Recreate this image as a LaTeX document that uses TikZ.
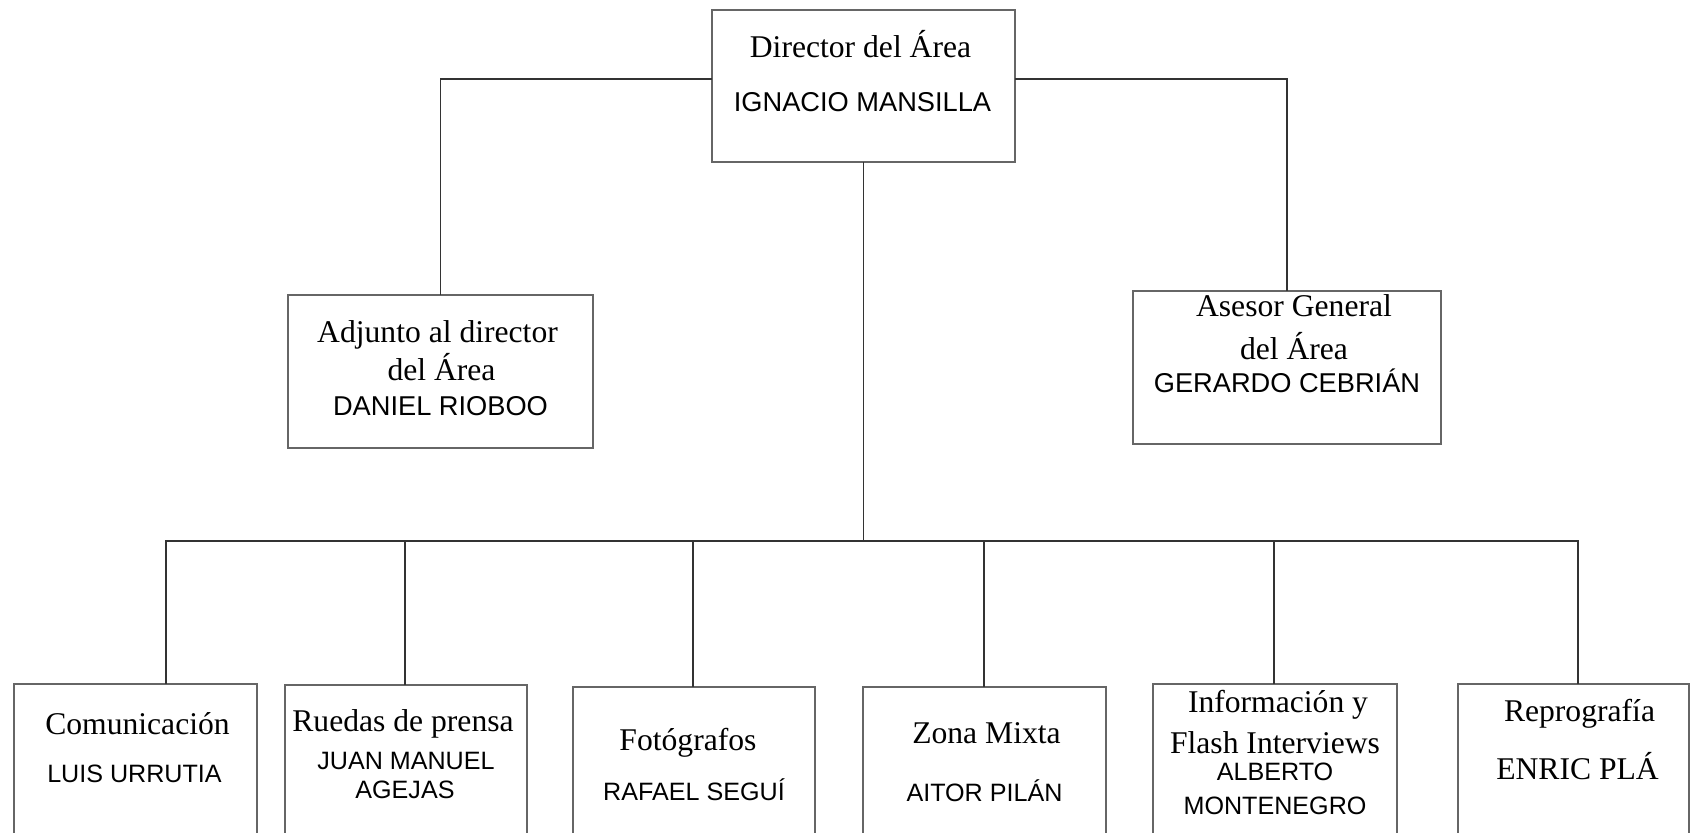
\documentclass[tikz,border=0pt]{standalone}
\usepackage{fontspec}
\setmainfont{Liberation Serif}
\setsansfont{Liberation Sans}
\usetikzlibrary{calc}
\tikzset{
  box/.style={rectangle, draw=black!60, line width=0.9pt, inner sep=0pt, minimum width=4.86cm, minimum height=3.06cm},
  unit/.style={box, anchor=north, minimum height=4cm},
  link/.style={draw=black!80, line width=1.1pt, line cap=rect},
  ttl/.style={anchor=base, inner sep=0pt, font=\fontsize{18}{20}\selectfont},
  nm/.style={anchor=base, inner sep=0pt, font=\sffamily\fontsize{15.5}{18}\selectfont},
  nmsmall/.style={nm, font=\sffamily\fontsize{14.3}{17}\selectfont},
}
\begin{document}
\begin{tikzpicture}[x=0.02cm, y=-0.02cm]
  \useasboundingbox (0,0) rectangle (1691,832);
  \clip (0,0) rectangle (1691,832);
  % top level
  \node[box, minimum width=6.06cm, minimum height=3.04cm] (dir) at (863.5,86) {};
  \node[box, minimum width=6.1cm] (adj) at (440.5,371.5) {};
  \node[box, minimum width=6.16cm] (ase) at (1287,367.5) {};
  % bottom row
  \node[unit, minimum width=4.86cm] (com) at (135.5,683) {};
  \node[unit, minimum width=4.84cm] (rue) at (406,684) {};
  \node[unit, minimum width=4.84cm] (fot) at (694,686) {};
  \node[unit, minimum width=4.86cm] (zon) at (984.5,686) {};
  \node[unit, minimum width=4.88cm] (inf) at (1275,683) {};
  \node[unit, minimum width=4.62cm] (rep) at (1573.5,683) {};
  % texts
  \node[ttl] (dirT) at ($(dir.north)+(-3,48)$) {Director del Área};
  \node[nm] (dirN) at ($(dir.north)+(-1,102)$) {IGNACIO MANSILLA};
  \node[ttl] (adjT) at ($(adj.north)+(-3,48)$) {Adjunto al director};
  \node[ttl] (adjU) at ($(adj.north)+(1,86)$) {del Área};
  \node[nm] (adjN) at ($(adj.north)+(0,121)$) {DANIEL RIOBOO};
  \node[ttl] (aseT) at ($(ase.north)+(7,26)$) {Asesor General};
  \node[ttl] (aseU) at ($(ase.north)+(7,69)$) {del Área};
  \node[nm] (aseN) at ($(ase.north)+(0,102)$) {GERARDO CEBRIÁN};
  \node[ttl] (comT) at ($(com.north)+(2,51)$) {Comunicación};
  \node[nmsmall] (comN) at ($(com.north)+(-1,99)$) {LUIS URRUTIA};
  \node[ttl] (rueT) at ($(rue.north)+(-3,47)$) {Ruedas de prensa};
  \node[nmsmall] (rueN) at ($(rue.north)+(0,85)$) {JUAN MANUEL};
  \node[nmsmall] (rueM) at ($(rue.north)+(-1,114)$) {AGEJAS};
  \node[ttl] (fotT) at ($(fot.north)+(-6,64)$) {Fotógrafos};
  \node[nmsmall] (fotN) at ($(fot.north)+(0,114)$) {RAFAEL SEGUÍ};
  \node[ttl] (zonT) at ($(zon.north)+(2,57)$) {Zona Mixta};
  \node[nmsmall] (zonN) at ($(zon.north)+(0,115)$) {AITOR PILÁN};
  \node[ttl] (infT) at ($(inf.north)+(3,29)$) {Información y};
  \node[ttl] (infU) at ($(inf.north)+(0,70)$) {Flash Interviews};
  \node[nmsmall] (infN) at ($(inf.north)+(0,97)$) {ALBERTO};
  \node[nmsmall] (infM) at ($(inf.north)+(0,131)$) {MONTENEGRO};
  \node[ttl] (repT) at ($(rep.north)+(6,38)$) {Reprografía};
  \node[ttl] (repN) at ($(rep.north)+(4,96)$) {ENRIC PLÁ};
  % connectors
  \draw[link] ([yshift=0.14cm]dir.west) -| (adj.north);
  \draw[link] ([yshift=0.14cm]dir.east) -| (ase.north);
  \coordinate (bus) at (863.5,541);
  \draw[link] (dir.south) -- (bus);
  \foreach \n/\x in {com/166, rue/405, fot/693, zon/984, inf/1274, rep/1578} {
    \coordinate (d\n) at (\x,541);
    \draw[link] (d\n) -- (d\n |- \n.north);
  }
  \draw[link] (dcom) -- (drep);
\end{tikzpicture}
\end{document}
